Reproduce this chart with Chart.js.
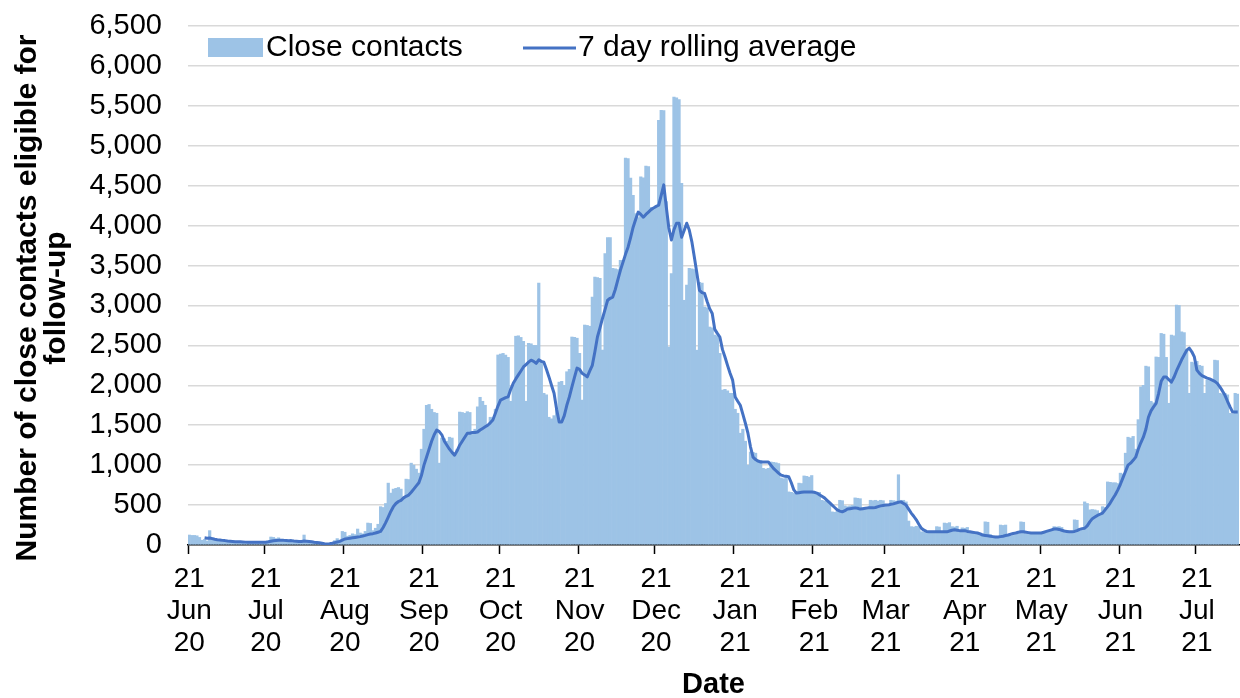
<!DOCTYPE html>
<html>
<head>
<meta charset="utf-8">
<script src="https://cdn.jsdelivr.net/npm/chart.js@4.4.1/dist/chart.umd.min.js"></script>
<style>
  html, body { margin: 0; padding: 0; background: #fff; }
  canvas { display: block; }
</style>
</head>
<body>
<canvas id="contacts" width="1240" height="698"></canvas>
<script>
// daily series start on 21 Jun 2020
const firstDay = [2020, 5, 21];
const monthNames = ['Jan', 'Feb', 'Mar', 'Apr', 'May', 'Jun', 'Jul', 'Aug', 'Sep', 'Oct', 'Nov', 'Dec'];
const seriesNames = ['Close contacts', '7 day rolling average'];
const yTitle = ['Number of close contacts eligible for', 'follow-up'];
const xTitle = 'Date';
const yMax = 6500;
const yStep = 500;

// close contacts per day
const closeContacts = [
  125, 120, 120, 115, 95, 60, 70,
  50, 180, 90, 70, 60, 55, 45,
  40, 35, 50, 40, 35, 30, 35,
  40, 30, 30, 35, 25, 30, 40,
  35, 30, 40, 50, 100, 95, 80,
  90, 70, 55, 40, 35, 45, 40,
  35, 30, 45, 125, 35, 40, 30,
  25, 30, 20, 15, 10, 5, 15,
  30, 55, 80, 60, 170, 160, 110,
  120, 140, 130, 200, 150, 140, 170,
  275, 270, 180, 210, 260, 480, 470,
  520, 775, 650, 700, 710, 720, 700,
  600, 825, 820, 1025, 1000, 950, 900,
  1200, 1450, 1750, 1760, 1700, 1660, 1650,
  1025, 1340, 1330, 1300, 1350, 1340, 1150,
  1200, 1665, 1660, 1650, 1670, 1660, 1400,
  1450, 1730, 1850, 1800, 1750, 1500, 1600,
  1550, 1700, 2380, 2390, 2400, 2380, 2350,
  1800, 2000, 2615, 2620, 2600, 2550, 1800,
  2525, 2520, 2500, 2500, 3280, 2300, 1900,
  1880, 1600, 1580, 1620, 1700, 2040, 2050,
  2000, 2170, 2200, 2605, 2600, 2590, 2400,
  1815, 2755, 2750, 2740, 3105, 3355, 3350,
  3340, 2440, 3650, 3850, 3850, 3465, 3460,
  3450, 3565, 3560, 4845, 4840, 4595, 4380,
  4150, 4100, 4610, 4600, 4745, 4740, 4230,
  4200, 4250, 5320, 5445, 5440, 4300, 2480,
  3400, 5610, 5600, 5580, 4530, 3065, 3255,
  3465, 3460, 3450, 2440, 3290, 3280, 2980,
  2970, 2730, 2720, 2630, 2620, 2400, 1940,
  1950, 1930, 1900, 1900, 1700, 1650, 1400,
  1450, 1300, 1000, 1165, 1160, 1150, 1065,
  1060, 960, 950, 960, 1040, 1035, 1030,
  1020, 840, 830, 850, 665, 660, 650,
  670, 775, 770, 865, 860, 850, 870,
  650, 640, 660, 560, 550, 540, 530,
  415, 410, 420, 560, 555, 490, 480,
  490, 495, 590, 585, 580, 465, 460,
  470, 560, 555, 560, 550, 560, 555,
  490, 480, 560, 555, 550, 880, 560,
  560, 540, 300, 230, 225, 235, 230,
  165, 160, 170, 165, 160, 170, 230,
  225, 165, 275, 270, 280, 230, 225,
  235, 170, 215, 210, 220, 165, 160,
  155, 160, 150, 140, 290, 285, 130,
  100, 110, 95, 250, 245, 250, 120,
  110, 120, 130, 140, 290, 285, 140,
  150, 145, 150, 155, 150, 160, 170,
  165, 175, 180, 230, 225, 230, 220,
  160, 170, 165, 170, 315, 310, 180,
  190, 540, 520, 440, 445, 440, 430,
  380, 480, 470, 790, 785, 780, 780,
  770, 900, 890, 1150, 1350, 1340, 1360,
  1200, 1570, 1980, 2000, 2240, 2230, 1800,
  1780, 2355, 2350, 2650, 2640, 2350, 1775,
  2630, 2620, 3005, 3000, 2670, 2660, 2440,
  1900, 2290, 2280, 2300, 2250, 2240, 1900,
  2065, 2060, 2070, 2315, 2310, 1900, 1890,
  1900, 1880, 1650, 1640, 1900, 1890
];

// 7 day rolling average, first value on the 7th day
const rollingAverage = [
  null, null, null, null, null, null,
  90, 85, 88, 80, 72, 66, 62,
  58, 55, 50, 48, 45, 42, 40,
  40, 38, 36, 35, 34, 35, 33,
  34, 35, 34, 35, 40, 46, 52,
  55, 58, 60, 58, 55, 52, 55,
  50, 48, 45, 44, 50, 48, 45,
  40, 35, 32, 28, 22, 15, 12,
  15, 22, 30, 38, 45, 60, 75,
  80, 85, 90, 95, 100, 105, 112,
  120, 130, 138, 142, 150, 160, 170,
  220, 280, 350, 420, 480, 520, 545,
  560, 590, 610, 625, 660, 700, 740,
  780, 870, 1000, 1100, 1200, 1300, 1380,
  1440, 1420, 1380, 1300, 1250, 1200, 1160,
  1125, 1180, 1250, 1300, 1350, 1400, 1400,
  1410, 1410, 1415, 1440, 1460, 1480, 1500,
  1530, 1565, 1650, 1740, 1815, 1830, 1845,
  1855, 1950, 2025, 2080, 2130, 2180, 2230,
  2260, 2290, 2315, 2300, 2275, 2320, 2300,
  2290, 2200, 2105, 2000, 1900, 1700, 1540,
  1540, 1620, 1750, 1855, 1980, 2100, 2215,
  2200, 2150, 2130, 2105, 2180, 2250, 2420,
  2605, 2720, 2840, 2950, 3065, 3090, 3105,
  3200, 3320, 3440, 3540, 3640, 3730, 3850,
  3980, 4080, 4170, 4140, 4105, 4140, 4170,
  4200, 4220, 4240, 4255, 4380, 4510, 4230,
  3970, 3820, 3950, 4030, 4030, 3855, 3940,
  4030, 3945, 3800, 3605, 3400, 3190, 3160,
  3150, 3050, 2960, 2900, 2700, 2650, 2605,
  2450, 2355, 2250, 2150, 2065, 1855, 1800,
  1750, 1640, 1525, 1400, 1230, 1100, 1070,
  1050, 1040, 1040, 1040, 1040, 1000, 960,
  930, 900, 875, 865, 860, 855, 780,
  690, 650, 655, 660, 665, 665, 665,
  665, 660, 650, 630, 610, 590, 560,
  530, 500, 470, 440, 425, 415, 430,
  450, 455, 460, 465, 460, 450, 455,
  460, 465, 465, 465, 470, 480, 490,
  495, 500, 500, 510, 515, 525, 535,
  540, 520, 500, 450, 400, 360, 315,
  260, 210, 185, 170, 165, 165, 165,
  165, 165, 165, 165, 165, 175, 185,
  190, 185, 180, 180, 180, 170, 165,
  160, 155, 150, 140, 125, 120, 115,
  110, 105, 100, 100, 105, 110, 118,
  125, 135, 145, 150, 160, 165, 165,
  160, 155, 150, 150, 150, 150, 150,
  160, 170, 180, 190, 200, 200, 195,
  185, 175, 170, 165, 165, 170, 180,
  195, 205, 210, 240, 290, 330, 350,
  370, 385, 400, 440, 480, 525, 580,
  630, 690, 760, 840, 920, 1000, 1025,
  1060, 1100, 1200, 1280, 1350, 1450, 1600,
  1680, 1730, 1775, 1900, 2050, 2105, 2105,
  2070, 2040, 2100, 2180, 2250, 2320, 2380,
  2440, 2465, 2420, 2355, 2190, 2150, 2120,
  2105, 2090, 2080, 2065, 2050, 2025, 1980,
  1930, 1875, 1800, 1730, 1665, 1665, 1665
];

const barColour = '#9DC3E6';
const lineColour = '#4472C4';
const fontFamily = '"Liberation Sans", Arial, sans-serif';

// one category per day
const dates = closeContacts.map((v, i) => new Date(Date.UTC(firstDay[0], firstDay[1], firstDay[2] + i)));
const labels = dates.map(d => d.getUTCDate() + ' ' + monthNames[d.getUTCMonth()] + ' ' + String(d.getUTCFullYear()).slice(2));

function isMonthTick(i) {
  const d = dates[i];
  return !!d && d.getUTCDate() === 21;
}

// legend sits inside the plot, y title drawn by hand so it can be centred like the original
const overlayPlugin = {
  id: 'overlay',
  afterDraw(chart) {
    const ctx = chart.ctx;
    const lineSet = chart.data.datasets[0];
    const barSet = chart.data.datasets[1];
    ctx.save();
    ctx.font = '30px ' + fontFamily;
    ctx.textBaseline = 'middle';
    ctx.fillStyle = barSet.backgroundColor;
    ctx.fillRect(208, 38, 55, 19);
    ctx.fillStyle = '#000';
    ctx.fillText(barSet.label, 266, 48);
    ctx.strokeStyle = lineSet.borderColor;
    ctx.lineWidth = 3;
    ctx.beginPath();
    ctx.moveTo(523, 48);
    ctx.lineTo(576, 48);
    ctx.stroke();
    ctx.fillText(lineSet.label, 578, 48);

    ctx.font = 'bold 30px ' + fontFamily;
    ctx.textAlign = 'center';
    ctx.translate(28, 298);
    ctx.rotate(-Math.PI / 2);
    ctx.fillText(yTitle[0], 0, 0);
    ctx.fillText(yTitle[1], 0, 29);
    ctx.restore();
  }
};

new Chart(document.getElementById('contacts'), {
  type: 'bar',
  data: {
    labels: labels,
    datasets: [
      {
        type: 'line',
        label: seriesNames[1],
        data: rollingAverage,
        borderColor: lineColour,
        borderWidth: 3,
        pointRadius: 0,
        tension: 0,
        borderJoinStyle: 'round',
        order: 0
      },
      {
        type: 'bar',
        label: seriesNames[0],
        data: closeContacts,
        backgroundColor: barColour,
        borderWidth: 0,
        barPercentage: 1,
        categoryPercentage: 1,
        order: 1
      }
    ]
  },
  options: {
    responsive: false,
    animation: false,
    devicePixelRatio: 1,
    layout: { padding: { top: 26, right: 1, left: 0, bottom: 0 } },
    plugins: {
      legend: { display: false },
      tooltip: { enabled: false }
    },
    scales: {
      x: {
        offset: true,
        grid: {
          display: true,
          offset: true,
          drawOnChartArea: false,
          drawTicks: true,
          tickLength: 9,
          tickWidth: 1.5,
          tickColor: c => isMonthTick(c.index) ? '#000' : 'rgba(0,0,0,0)'
        },
        border: { display: true, color: '#000', width: 1.5 },
        ticks: {
          autoSkip: false,
          maxRotation: 0,
          minRotation: 0,
          padding: 9,
          color: '#000',
          font: { family: fontFamily, size: 28, lineHeight: 1.14 },
          callback: (value, index) => {
            if (!isMonthTick(index)) return '';
            const d = dates[index];
            return ['21', monthNames[d.getUTCMonth()], String(d.getUTCFullYear()).slice(2)];
          }
        },
        title: {
          display: true,
          text: xTitle,
          color: '#000',
          font: { family: fontFamily, size: 29, weight: 'bold', lineHeight: 0.9 },
          padding: { top: 0, bottom: 0 }
        },
        afterFit: scale => {
          scale.height = 153;
          scale.paddingLeft = 0;
          scale.paddingRight = 0;
        }
      },
      y: {
        min: 0,
        max: yMax,
        border: { display: false },
        grid: {
          color: c => c.tick && c.tick.value === 0 ? 'rgba(0,0,0,0)' : '#d9d9d9',
          lineWidth: 1.5,
          drawTicks: false
        },
        ticks: {
          stepSize: yStep,
          padding: 26,
          color: '#000',
          font: { family: fontFamily, size: 29 },
          callback: v => v.toLocaleString('en-US')
        },
        afterFit: scale => {
          scale.width = 188;
          scale.paddingTop = 0;
          scale.paddingBottom = 0;
        }
      }
    }
  },
  plugins: [overlayPlugin]
});
</script>
</body>
</html>
